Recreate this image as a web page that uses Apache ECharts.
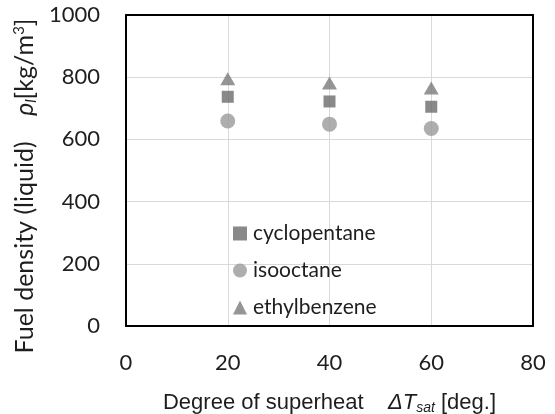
<!DOCTYPE html>
<html><head><meta charset="utf-8">
<script src="https://cdn.jsdelivr.net/npm/echarts@6/dist/echarts.min.js"></script>
<style>html,body{margin:0;padding:0;background:#fff}#c{width:555px;height:414px}</style>
</head><body><div id="c"></div>
<script>
const superheat = [20, 40, 60];
const cyclopentane = [737, 722, 705];
const isooctane = [659, 649, 635];
const ethylbenzene = [795, 781, 765];
const xTicks = [0, 20, 40, 60, 80];
const yTicks = [0, 200, 400, 600, 800, 1000];

const FONT = 'Lato, "Open Sans", sans-serif';
const ARIAL = '"Liberation Sans", Arial, sans-serif';
const TXT = '#1e1e1e';
const chart = echarts.init(document.getElementById('c'), null, {renderer: 'canvas'});
const pair = (xs, ys) => xs.map((x, i) => [x, ys[i]]);
const frameLine = {show: true, onZero: false, lineStyle: {color: '#000', width: 2}};
const hidden = {axisTick: {show: false}, axisLabel: {show: false}, splitLine: {show: false}};
chart.setOption({
  animation: false,
  grid: {left: 126, top: 15, right: 22, bottom: 88, containLabel: false, outerBoundsMode: 'none'},
  legend: {
    orient: 'vertical', left: 228, top: 218, itemGap: 16, itemWidth: 14, itemHeight: 14,
    textStyle: {fontFamily: FONT, fontSize: 21, color: TXT, padding: [0, 0, 0, 1]},
    data: ['cyclopentane', 'isooctane', 'ethylbenzene']
  },
  xAxis: [{
    type: 'value', min: xTicks[0], max: xTicks[xTicks.length - 1], interval: 20,
    axisLine: frameLine, axisTick: {show: false},
    splitLine: {show: true, lineStyle: {color: '#d9d9d9', width: 1}},
    axisLabel: {fontFamily: FONT, fontSize: 22, color: TXT, margin: 26, formatter: v => String(v)},
    name: '{n|Degree of superheat    }{i|ΔT}{s|sat}{n| [deg.]}',
    nameLocation: 'middle', nameGap: 65,
    nameTextStyle: {
      rich: {
        n: {fontFamily: ARIAL, fontSize: 22, color: TXT},
        i: {fontFamily: ARIAL, fontSize: 22, color: TXT, fontStyle: 'italic'},
        s: {fontFamily: ARIAL, fontSize: 14, color: TXT, fontStyle: 'italic', padding: [10, 0, 0, 0]}
      }
    }
  }, {
    type: 'value', position: 'top', min: xTicks[0], max: xTicks[xTicks.length - 1],
    axisLine: frameLine, ...hidden
  }],
  yAxis: [{
    type: 'value', min: yTicks[0], max: yTicks[yTicks.length - 1], interval: 200,
    axisLine: frameLine, axisTick: {show: false},
    splitLine: {show: true, lineStyle: {color: '#d9d9d9', width: 1}},
    axisLabel: {fontFamily: FONT, fontSize: 22, color: TXT, margin: 26, formatter: v => String(v)}
  }, {
    type: 'value', position: 'right', min: yTicks[0], max: yTicks[yTicks.length - 1],
    axisLine: frameLine, ...hidden
  }],
  graphic: [{
    type: 'text', x: 25, y: 186, rotation: Math.PI / 2,
    style: {
      text: '{n|Fuel density (liquid)    }{i|ρ}{s|l}{n|[kg/m}{p|3}{n|]}',
      align: 'center', verticalAlign: 'middle',
      rich: {
        n: {fontFamily: FONT, fontSize: 25, fill: TXT},
        i: {fontFamily: FONT, fontSize: 25, fill: TXT, fontStyle: 'italic'},
        s: {fontFamily: FONT, fontSize: 15, fill: TXT, fontStyle: 'italic', padding: [13, 0, 0, 0]},
        p: {fontFamily: FONT, fontSize: 15, fill: TXT, padding: [0, 0, 11, 0]}
      }
    }
  }],
  series: [
    {name: 'cyclopentane', type: 'scatter', symbol: 'rect', symbolSize: 12, itemStyle: {color: '#6b6b6b'}, data: pair(superheat, cyclopentane)},
    {name: 'isooctane', type: 'scatter', symbol: 'circle', symbolSize: 15, itemStyle: {color: '#9a9a9a'}, data: pair(superheat, isooctane)},
    {name: 'ethylbenzene', type: 'scatter', symbol: 'triangle', symbolSize: [15, 13], itemStyle: {color: '#7a7a7a'}, data: pair(superheat, ethylbenzene)}
  ]
});
</script></body></html>
